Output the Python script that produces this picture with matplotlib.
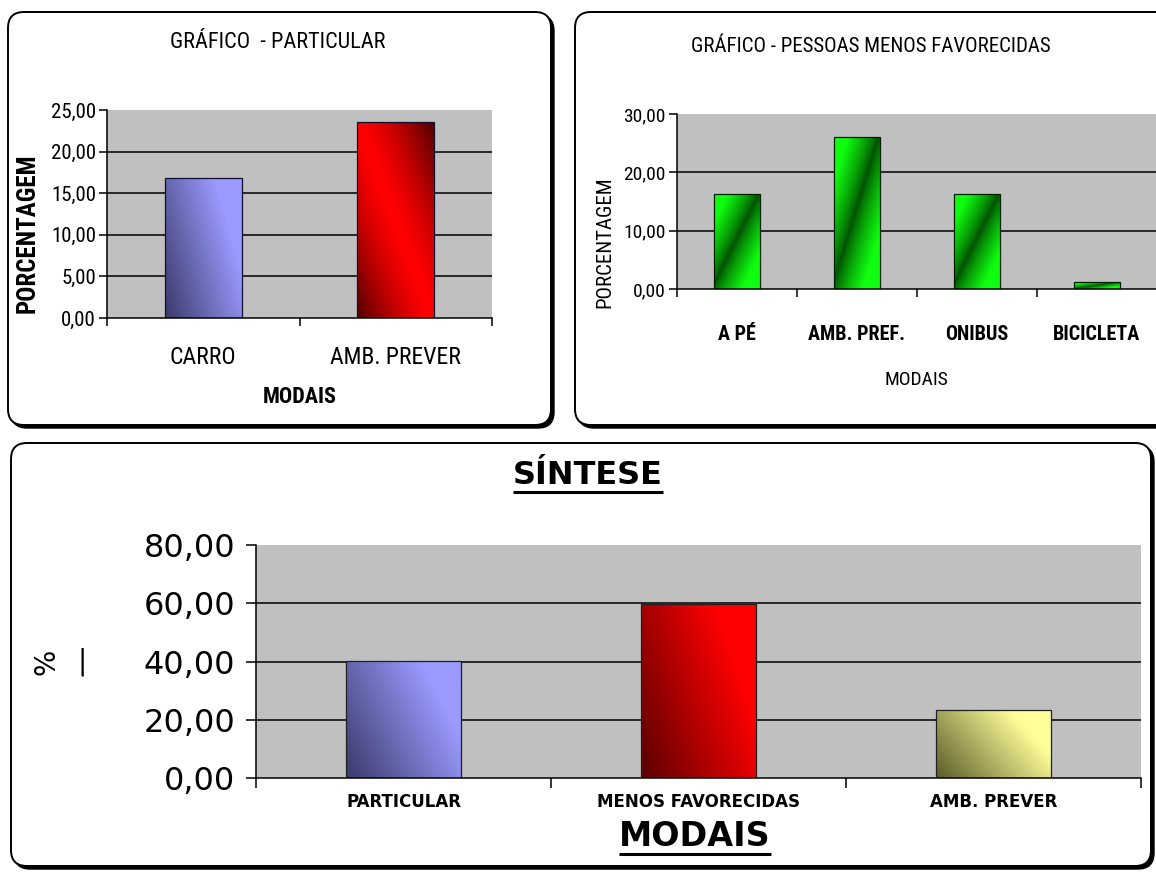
import numpy as np
import matplotlib
matplotlib.use("Agg")
import matplotlib.pyplot as plt
from matplotlib import font_manager
from matplotlib.patches import FancyBboxPatch
from matplotlib.colors import LinearSegmentedColormap

W, H = 1156, 872

# --- data -------------------------------------------------------------
part_cats = ["CARRO", "AMB. PREVER"]
part_vals = [16.8, 23.5]

menos_cats = ["A PÉ", "AMB. PREF.", "ONIBUS", "BICICLETA"]
menos_vals = [16.2, 26.1, 16.2, 1.2]

sint_cats = ["PARTICULAR", "MENOS FAVORECIDAS", "AMB. PREVER"]
sint_vals = [40.3, 59.7, 23.5]

part_ticks = [0, 5, 10, 15, 20, 25]
menos_ticks = [0, 10, 20, 30]
sint_ticks = [0, 20, 40, 60, 80]


def pick(names):
    for n in names:
        try:
            font_manager.findfont(font_manager.FontProperties(family=n),
                                  fallback_to_default=False)
            return n
        except Exception:
            pass
    return "DejaVu Sans"


NARROW = pick(["Liberation Sans Narrow", "DejaVu Sans Condensed",
               "Roboto Condensed", "Liberation Sans"])
WIDE = "DejaVu Sans"

fig = plt.figure(figsize=(W / 100, H / 100), dpi=100)
fig.patch.set_facecolor("white")

# pixel-space backdrop for the framed panels and free text
bg = fig.add_axes([0, 0, 1, 1], zorder=-5)
bg.set_xlim(0, W)
bg.set_ylim(H, 0)
bg.axis("off")


def panel(l, t, r, b, rad=16):
    sh = FancyBboxPatch((l + 3, t + 3), r - l, b - t,
                        boxstyle=f"round,pad=0,rounding_size={rad}",
                        fc="black", ec="black", lw=1.0)
    bx = FancyBboxPatch((l, t), r - l, b - t,
                        boxstyle=f"round,pad=0,rounding_size={rad}",
                        fc="white", ec="black", lw=1.4)
    bg.add_patch(sh)
    bg.add_patch(bx)


panel(8, 12, 551, 425)
panel(575, 12, 1175, 425)
panel(11, 443, 1151, 866)


def px_axes(l, t, r, b):
    return fig.add_axes([l / W, 1 - b / H, (r - l) / W, (b - t) / H])


def fmt(v):
    return f"{v:.2f}".replace(".", ",")


def setup(ax, cats, ticks, yfs, yfam, xfs, xfam, xweight, xpad, ypad, tlen):
    n = len(cats)
    ax.set_facecolor("#c0c0c0")
    ax.set_xlim(0, n)
    ax.set_ylim(0, ticks[-1])
    for v in ticks[1:-1]:
        ax.axhline(v, color="black", lw=1.1, zorder=1)
    for s in ("top", "right"):
        ax.spines[s].set_visible(False)
    for s in ("left", "bottom"):
        ax.spines[s].set_linewidth(1.1)
    ax.set_yticks(ticks)
    ax.set_yticklabels([fmt(v) for v in ticks], fontsize=yfs, family=yfam)
    ax.set_xticks(np.arange(n + 1))
    ax.set_xticklabels([])
    ax.set_xticks(np.arange(n) + 0.5, minor=True)
    ax.set_xticklabels(cats, minor=True, fontsize=xfs, family=xfam,
                       fontweight=xweight)
    ax.tick_params(axis="both", which="major", direction="out",
                   length=tlen, width=1.1, color="black")
    ax.tick_params(axis="y", pad=ypad)
    ax.tick_params(axis="x", which="minor", length=0, pad=xpad)


def gradient_bar(ax, bar, c0, c1, kind):
    x0, y0 = bar.get_x(), bar.get_y()
    w, h = bar.get_width(), bar.get_height()
    n = 200
    u, v = np.meshgrid(np.linspace(0, 1, n), np.linspace(0, 1, n))
    if kind == "diag":
        t = np.clip(0.85 * u + 0.45 * v, 0, 1)
    elif kind == "reflect":
        # bright ridge from top-left to bottom-right, dark opposite corners
        t = 1 - np.clip(np.abs(u + v - 1.0) * 1.0, 0, 1) ** 1.4
    else:
        # dark stripe from bottom-left to top-right, bright other corners
        t = np.clip(np.abs(u - v + 0.05) * 1.5, 0, 1) ** 0.8
    cmap = LinearSegmentedColormap.from_list("g", [c0, c1])
    im = ax.imshow(t, extent=(x0, x0 + w, y0, y0 + h), origin="lower",
                   cmap=cmap, vmin=0, vmax=1, aspect="auto",
                   interpolation="bilinear", zorder=2)
    im.set_clip_path(bar)


# --- panel 1: particular ----------------------------------------------
ax1 = px_axes(107, 110, 492, 318)
setup(ax1, part_cats, part_ticks, 15, NARROW, 17, NARROW, "normal",
      xpad=20, ypad=2, tlen=6)
bars1 = ax1.bar(np.arange(len(part_cats)) + 0.5, part_vals, width=0.4,
                fc="none", ec="#101030", lw=0.9, zorder=3)
gradient_bar(ax1, bars1[0], "#3a3a6a", "#9a9aff", "diag")
gradient_bar(ax1, bars1[1], "#500000", "#ff0000", "reflect")
ax1.set_xlim(0, len(part_cats))
ax1.set_ylim(0, part_ticks[-1])

bg.text(278, 42, "GRÁFICO  - PARTICULAR", family=NARROW, fontsize=16,
        ha="center", va="center")
bg.text(300, 397, "MODAIS", family=NARROW, fontsize=16, fontweight="bold",
        ha="center", va="center")
bg.text(28, 233, "PORCENTAGEM", family=NARROW, fontsize=18,
        fontweight="bold", rotation=90, ha="center", va="center")

# --- panel 2: pessoas menos favorecidas -------------------------------
ax2 = px_axes(677, 114, 1157, 289)
setup(ax2, menos_cats, menos_ticks, 14, NARROW, 14.5, NARROW, "bold",
      xpad=26, ypad=2, tlen=6)
bars2 = ax2.bar(np.arange(len(menos_cats)) + 0.5, menos_vals, width=0.39,
                fc="none", ec="#002000", lw=0.9, zorder=3)
for b in bars2:
    gradient_bar(ax2, b, "#005000", "#10ff10", "band")
ax2.set_xlim(0, len(menos_cats))
ax2.set_ylim(0, menos_ticks[-1])

bg.text(871, 47, "GRÁFICO - PESSOAS MENOS FAVORECIDAS", family=NARROW,
        fontsize=15, ha="center", va="center")
bg.text(916, 380, "MODAIS", family=NARROW, fontsize=14, ha="center",
        va="center")
bg.text(605, 242, "PORCENTAGEM", family=NARROW, fontsize=15, rotation=90,
        ha="center", va="center")

# --- panel 3: síntese ---------------------------------------------------
ax3 = px_axes(256, 545, 1141, 778)
setup(ax3, sint_cats, sint_ticks, 23, WIDE, 12, WIDE, "bold",
      xpad=11, ypad=8, tlen=7)
bars3 = ax3.bar(np.arange(len(sint_cats)) + 0.5, sint_vals, width=0.39,
                fc="none", ec="#202020", lw=0.9, zorder=3)
gradient_bar(ax3, bars3[0], "#3a3a6a", "#9a9aff", "diag")
gradient_bar(ax3, bars3[1], "#5a0000", "#ff0000", "diag")
gradient_bar(ax3, bars3[2], "#5a5a2a", "#ffff99", "diag")
ax3.set_xlim(0, len(sint_cats))
ax3.set_ylim(0, sint_ticks[-1])

t_sint = bg.text(588, 475, "SÍNTESE", family=WIDE, fontsize=23,
                 fontweight="bold", ha="center", va="center")
t_mod = bg.text(695, 836, "MODAIS", family=WIDE, fontsize=24,
                fontweight="bold", ha="center", va="center")
bg.text(47, 662, "%", family=WIDE, fontsize=20, rotation=90,
        ha="center", va="center")
bg.text(82, 662, "|", family=WIDE, fontsize=20, ha="center", va="center")

# underline the two headings
fig.canvas.draw()
inv = bg.transData.inverted()
for t in (t_sint, t_mod):
    bb = t.get_window_extent()
    (xa, ya), (xb, yb) = inv.transform([(bb.x0, bb.y0), (bb.x1, bb.y1)])
    bg.plot([xa, xb], [ya + 1, ya + 1], color="black", lw=2.2,
            solid_capstyle="butt")

fig.savefig("out.png", dpi=100)
